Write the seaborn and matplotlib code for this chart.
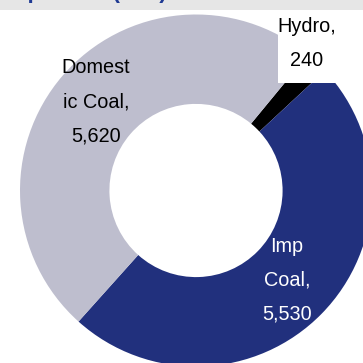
import matplotlib
matplotlib.use("Agg")
import matplotlib.pyplot as plt
from matplotlib.patches import Rectangle
import seaborn as sns

# Installed capacity by source (MW)
sources = ["Hydro", "Imp Coal", "Domestic Coal"]
label_names = ["Hydro,", "Imp\nCoal,", "Domest\nic Coal,"]
capacity_mw = [240, 5530, 5620]

sns.set_theme(style="white")
plt.rcParams["font.family"] = ["Liberation Sans", "DejaVu Sans"]

palette = ["#000000", "#21307D", "#BEBECE"]

W = H = 363
fig = plt.figure(figsize=(W / 100, H / 100), dpi=100)
ax = fig.add_axes([0, 0, 1, 1])

# Donut centre and radius in pixels
cx, cy, R = 196, 190.5, 176

wedges, _ = ax.pie(
    capacity_mw,
    colors=palette,
    startangle=50.5,
    counterclock=False,
    radius=1.0,
    wedgeprops=dict(width=0.508, edgecolor="none", linewidth=0),
)
ax.set_xlim(-cx / R, (W - cx) / R)
ax.set_ylim(-(H - cy) / R, cy / R)
ax.set_aspect("equal")
ax.axis("off")


def px(x, y):
    """Pixel position (from top-left) to data coordinates."""
    return (x - cx) / R, (cy - y) / R


# Label background for the small slice
bx0, by0 = px(278, 83)
bx1, by1 = px(340, 11)
ax.add_patch(Rectangle((bx0, by0), bx1 - bx0, by1 - by0,
                       facecolor="white", edgecolor="none", zorder=3))

label_pos = {"Hydro": (307, 44), "Imp Coal": (287, 280), "Domestic Coal": (96, 101.5)}
label_col = {"Hydro": "black", "Imp Coal": "white", "Domestic Coal": "black"}

for name, lab, val in zip(sources, label_names, capacity_mw):
    x, y = px(*label_pos[name])
    ax.text(x, y, f"{lab}\n{val:,}", ha="center", va="center",
            fontsize=14.3, color=label_col[name], linespacing=2.0, zorder=4)

# Header strip with the chart title running off the top edge
fig.patches.append(Rectangle((0, 1 - 10 / H), 1, 10 / H, transform=fig.transFigure,
                             facecolor="#E6E6E6", edgecolor="none", zorder=0))
fig.text(8 / W, 1 + 2.0 / H, "Input mix (MW)", ha="left", va="baseline",
         fontsize=16, fontweight="bold", color="#1F3A93")

fig.savefig("out.png", dpi=100)
